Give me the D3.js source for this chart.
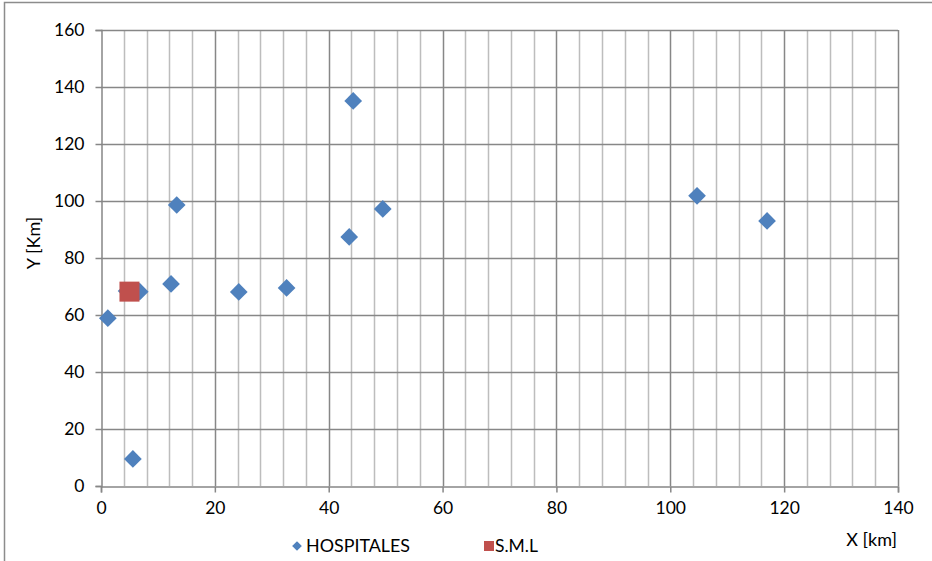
<!DOCTYPE html>
<html>
<head>
<meta charset="utf-8">
<script src="https://cdn.jsdelivr.net/npm/d3@7"></script>
<style>
  html, body { margin: 0; padding: 0; background: #fff; }
  svg text { font-family: Lato, "Liberation Sans", sans-serif; fill: #000; }
</style>
</head>
<body>
<svg id="chart" width="932" height="561"></svg>
<script>
// Hospital locations (km)
const hospitalesX = [1.2, 5.6, 6.8, 4.5, 12.3, 24.2, 32.6, 43.6, 44.3, 49.5, 13.3, 104.7, 117.0];
const hospitalesY = [58.9, 9.5, 68.2, 68.4, 70.9, 68.1, 69.5, 87.4, 135.1, 97.2, 98.6, 101.8, 93.0];
// S.M.L location (km)
const smlX = [5.0];
const smlY = [68.2];

const xTicks = [0, 20, 40, 60, 80, 100, 120, 140];
const yTicks = [0, 20, 40, 60, 80, 100, 120, 140, 160];
const xMinorTicks = d3.range(0, 141, 4);

const seriesNames = ["HOSPITALES", "S.M.L"];
const seriesColors = ["#4F81BD", "#C0504D"];

const svg = d3.select("#chart");
const plot = { left: 101, right: 898, top: 30, bottom: 486 };

const x = d3.scaleLinear().domain([0, 140]).range([plot.left, plot.right]);
const y = d3.scaleLinear().domain([0, 160]).range([plot.bottom, plot.top]);

// outer chart frame
svg.append("rect")
  .attr("x", 4.5).attr("y", 2.5).attr("width", 940).attr("height", 570)
  .attr("fill", "none").attr("stroke", "#8c8c8c").attr("stroke-width", 1.5);

// minor vertical gridlines (every 4 km)
svg.append("g").selectAll("line")
  .data(xMinorTicks.filter(v => v % 20 !== 0))
  .join("line")
  .attr("x1", d => Math.round(x(d)) + 0.5).attr("x2", d => Math.round(x(d)) + 0.5)
  .attr("y1", plot.top).attr("y2", plot.bottom)
  .attr("stroke", "#bdbdbd").attr("stroke-width", 1.5);

// major vertical gridlines
svg.append("g").selectAll("line")
  .data(xTicks.filter(v => v !== 0))
  .join("line")
  .attr("x1", d => Math.round(x(d)) + 0.5).attr("x2", d => Math.round(x(d)) + 0.5)
  .attr("y1", plot.top).attr("y2", plot.bottom)
  .attr("stroke", "#878787").attr("stroke-width", 1.5);

// horizontal gridlines
svg.append("g").selectAll("line")
  .data(yTicks.filter(v => v !== 0))
  .join("line")
  .attr("x1", plot.left).attr("x2", plot.right)
  .attr("y1", d => Math.round(y(d)) + 0.5).attr("y2", d => Math.round(y(d)) + 0.5)
  .attr("stroke", "#878787").attr("stroke-width", 1.5);

// axes
const xAxis = d3.axisBottom(x).tickValues(xTicks).tickSize(6).tickPadding(9).tickFormat(d3.format("d"));
const yAxis = d3.axisLeft(y).tickValues(yTicks).tickSize(6).tickPadding(11).tickFormat(d3.format("d"));

const gx = svg.append("g").attr("transform", `translate(0,${plot.bottom + 0.5})`).call(xAxis);
const gy = svg.append("g").attr("transform", `translate(${plot.left + 0.5},0)`).call(yAxis);
[gx, gy].forEach(g => {
  g.select(".domain").attr("stroke", "#878787").attr("stroke-width", 1.5);
  g.selectAll(".tick line").attr("stroke", "#878787").attr("stroke-width", 1.5);
  g.selectAll(".tick text").attr("font-size", 17.5).attr("fill", "#000")
    .style("font-family", "Lato, 'Liberation Sans', sans-serif");
});
gx.selectAll(".tick text").attr("dy", "0.71em");

// axis titles
svg.append("text")
  .attr("transform", `translate(40,${243}) rotate(-90)`)
  .attr("text-anchor", "middle").attr("font-size", 18)
  .text("Y [Km]");
svg.append("text")
  .attr("x", 897).attr("y", 546)
  .attr("text-anchor", "end").attr("font-size", 18)
  .text("X [km]");

// markers
const diamond = d3.symbol().type(d3.symbolDiamond2).size(200);
const hosp = hospitalesX.map((v, i) => ({ x: v, y: hospitalesY[i] }));
const sml = smlX.map((v, i) => ({ x: v, y: smlY[i] }));

svg.append("g").selectAll("path")
  .data(hosp)
  .join("path")
  .attr("d", diamond)
  .attr("transform", d => `translate(${x(d.x)},${y(d.y)})`)
  .attr("fill", seriesColors[0]);

svg.append("g").selectAll("rect")
  .data(sml)
  .join("rect")
  .attr("x", d => x(d.x) - 10).attr("y", d => y(d.y) - 10)
  .attr("width", 20).attr("height", 20)
  .attr("fill", seriesColors[1]);

// legend
const legend = svg.append("g").attr("transform", "translate(0,546)");
legend.append("path")
  .attr("d", d3.symbol().type(d3.symbolDiamond2).size(60))
  .attr("transform", "translate(297,0)")
  .attr("fill", seriesColors[0]);
legend.append("text")
  .attr("x", 306).attr("y", 0).attr("dy", "0.35em").attr("font-size", 17.5)
  .attr("textLength", 104).attr("lengthAdjust", "spacingAndGlyphs")
  .text(seriesNames[0]);
legend.append("rect")
  .attr("x", 484).attr("y", -5).attr("width", 10).attr("height", 10)
  .attr("fill", seriesColors[1]);
legend.append("text")
  .attr("x", 495).attr("y", 0).attr("dy", "0.35em").attr("font-size", 17.5)
  .text(seriesNames[1]);
</script>
</body>
</html>
